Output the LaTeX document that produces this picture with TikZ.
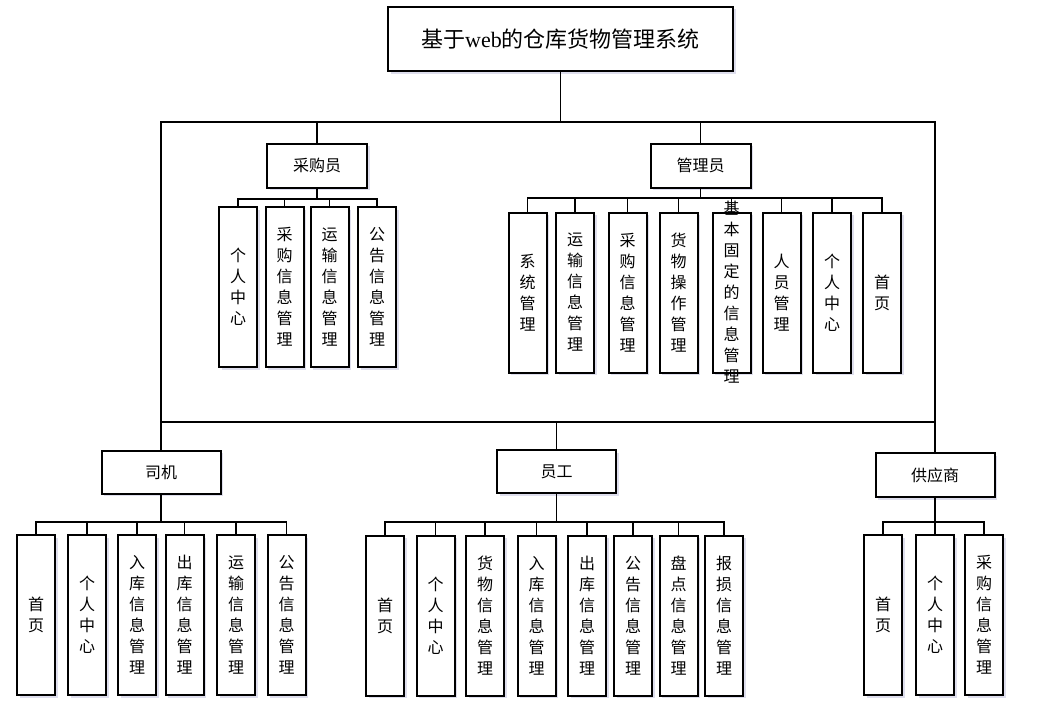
\documentclass[tikz,border=0pt]{standalone}
\usepackage{fontspec}
\setmainfont{Noto Sans CJK SC}
\newfontfamily\webfont{Liberation Serif}
\usetikzlibrary{shadows}
\tikzset{
  box/.style={rectangle, draw=black, line width=2pt, fill=white, inner sep=0pt,
    drop shadow={shadow xshift=2.5pt, shadow yshift=-2.5pt, opacity=0.2, fill=blue!30!gray}},
  role/.style={box, minimum width=119pt, minimum height=43pt, font=\fontsize{16}{18}\selectfont},
  leaf/.style={box, minimum width=38pt, minimum height=160pt},
  leaftext/.style={font=\fontsize{16}{21}\selectfont, align=center, text width=16pt, inner sep=0pt},
  wire/.style={line width=1.6pt}
}
\newcommand{\Leaf}[4]{%
\node[leaf] (#1) at (#2,#3) {};
\node[leaftext] at (#1) {#4};
}

\begin{document}
\begin{tikzpicture}[x=1pt, y=-1pt]
  \useasboundingbox (0,0) rectangle (1038,717);
  % title and frame:
  \node[box, minimum width=345pt, minimum height=64pt, font=\fontsize{22}{26}\selectfont] (title) at (560.5,39) {基于{\webfont web}的仓库货物管理系统};
  \coordinate (ftl) at (161,122);
  \coordinate (fbr) at (935,422);
  \draw[wire] (ftl) rectangle (fbr);
  \draw[wire] (title) -- (title |- ftl);
  %
  % roles
  \node[role, minimum width=100pt, minimum height=44pt] (buyer) at (317,165.5) {采购员};
  \node[role, minimum width=100pt, minimum height=44pt] (admin) at (700.5,165.5) {管理员};
  \node[role] (driver) at (161,472) {司机};
  \node[role] (staff) at (556.5,471.5) {员工};
  \node[role, minimum height=44pt] (supplier) at (935,475) {供应商};
  \draw[wire] (buyer) -- (buyer |- ftl);
  \draw[wire] (admin) -- (admin |- ftl);
  \draw[wire] (driver) -- (driver |- fbr);
  \draw[wire] (staff) -- (staff |- fbr);
  \draw[wire] (supplier) -- (supplier |- fbr);
  %
  % 采购员
  \Leaf{buyer1}{238}{287}{个\\人\\中\\心}
  \Leaf{buyer2}{284.5}{287}{采\\购\\信\\息\\管\\理}
  \Leaf{buyer3}{329.5}{287}{运\\输\\信\\息\\管\\理}
  \Leaf{buyer4}{377}{287}{公\\告\\信\\息\\管\\理}
  \draw[wire] (buyer) -- (buyer |- 0,199) coordinate (buyerbus);
  \foreach \i in {1,...,4} \draw[wire] (buyerbus) -| (buyer\i);
  %
  % 管理员
  \Leaf{admin1}{527.5}{292.5}{系\\统\\管\\理}
  \Leaf{admin2}{575}{292.5}{运\\输\\信\\息\\管\\理}
  \Leaf{admin3}{627.5}{292.5}{采\\购\\信\\息\\管\\理}
  \Leaf{admin4}{678.5}{292.5}{货\\物\\操\\作\\管\\理}
  \Leaf{admin5}{731.5}{292.5}{基\\本\\固\\定\\的\\信\\息\\管\\理}
  \Leaf{admin6}{781.5}{292.5}{人\\员\\管\\理}
  \Leaf{admin7}{832}{292.5}{个\\人\\中\\心}
  \Leaf{admin8}{882}{292.5}{首\\页}
  \draw[wire] (admin) -- (admin |- 0,198) coordinate (adminbus);
  \foreach \i in {1,...,8} \draw[wire] (adminbus) -| (admin\i);
  %
  % 司机
  \Leaf{driver1}{36}{615}{首\\页}
  \Leaf{driver2}{87}{615}{个\\人\\中\\心}
  \Leaf{driver3}{137}{615}{入\\库\\信\\息\\管\\理}
  \Leaf{driver4}{184.5}{615}{出\\库\\信\\息\\管\\理}
  \Leaf{driver5}{236}{615}{运\\输\\信\\息\\管\\理}
  \Leaf{driver6}{286.5}{615}{公\\告\\信\\息\\管\\理}
  \draw[wire] (driver) -- (driver |- 0,522) coordinate (driverbus);
  \foreach \i in {1,...,6} \draw[wire] (driverbus) -| (driver\i);
  %
  % 员工
  \Leaf{staff1}{385}{615.5}{首\\页}
  \Leaf{staff2}{435.5}{615.5}{个\\人\\中\\心}
  \Leaf{staff3}{485}{615.5}{货\\物\\信\\息\\管\\理}
  \Leaf{staff4}{536.5}{615.5}{入\\库\\信\\息\\管\\理}
  \Leaf{staff5}{587}{615.5}{出\\库\\信\\息\\管\\理}
  \Leaf{staff6}{633}{615.5}{公\\告\\信\\息\\管\\理}
  \Leaf{staff7}{678.5}{615.5}{盘\\点\\信\\息\\管\\理}
  \Leaf{staff8}{724}{615.5}{报\\损\\信\\息\\管\\理}
  \draw[wire] (staff) -- (staff |- 0,522) coordinate (staffbus);
  \foreach \i in {1,...,8} \draw[wire] (staffbus) -| (staff\i);
  %
  % 供应商
  \Leaf{supplier1}{883}{615}{首\\页}
  \Leaf{supplier2}{935}{615}{个\\人\\中\\心}
  \Leaf{supplier3}{984}{615}{采\\购\\信\\息\\管\\理}
  \draw[wire] (supplier) -- (supplier |- 0,522) coordinate (supplierbus);
  \foreach \i in {1,...,3} \draw[wire] (supplierbus) -| (supplier\i);
\end{tikzpicture}
\end{document}
